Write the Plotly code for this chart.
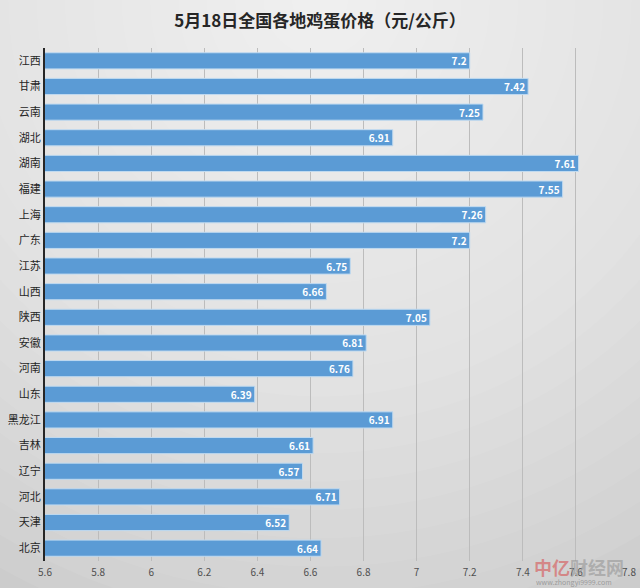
import plotly.graph_objects as go

provinces = ["江西", "甘肃", "云南", "湖北", "湖南", "福建", "上海", "广东", "江苏", "山西",
             "陕西", "安徽", "河南", "山东", "黑龙江", "吉林", "辽宁", "河北", "天津", "北京"]
prices = [7.2, 7.42, 7.25, 6.91, 7.61, 7.55, 7.26, 7.2, 6.75, 6.66,
          7.05, 6.81, 6.76, 6.39, 6.91, 6.61, 6.57, 6.71, 6.52, 6.64]
tick_vals = [5.6, 5.8, 6.0, 6.2, 6.4, 6.6, 6.8, 7.0, 7.2, 7.4, 7.6, 7.8]
tick_text = ["5.6", "5.8", "6", "6.2", "6.4", "6.6", "6.8", "7", "7.2", "7.4", "7.6", "7.8"]

font_family = "Noto Sans CJK SC, Noto Sans, sans-serif"
W, H = 640, 588
ML, MR, MT, MB = 45, 11, 48, 27
PW, PH = W - ML - MR, H - MT - MB

fig = go.Figure(go.Bar(
    x=prices,
    y=provinces,
    orientation="h",
    marker=dict(color="#5b9bd5", line=dict(color="#c0daf0", width=1)),
    text=[str(p) for p in prices],
    texttemplate="<b>%{text}</b>",
    textposition="inside",
    insidetextanchor="end",
    textangle=0,
    constraintext="none",
    textfont=dict(color="white", size=10, family=font_family),
    cliponaxis=True,
))

# radial gradient background: light at the top centre, gray toward the corners
shapes = []
n_layers = 24
cx_px, cy_px = W / 2, 0
for k in range(n_layers, 0, -1):
    r = 680 * k / n_layers
    x0 = (cx_px - r - ML) / PW
    x1 = (cx_px + r - ML) / PW
    y0 = (H - MB - (cy_px + r)) / PH
    y1 = (H - MB - (cy_px - r)) / PH
    shapes.append(dict(type="circle", xref="paper", yref="paper",
                       x0=x0, x1=x1, y0=y0, y1=y1,
                       fillcolor="rgba(255,255,255,0.062)", line=dict(width=0), layer="below"))

fig.update_layout(
    width=W, height=H,
    margin=dict(l=ML, r=MR, t=MT, b=MB),
    paper_bgcolor="#c9c9c9",
    plot_bgcolor="rgba(0,0,0,0)",
    shapes=shapes,
    bargap=0.37,
    font=dict(family=font_family, color="#404040"),
    title=dict(text="<b>5月18日全国各地鸡蛋价格（元/公斤）</b>", x=0.5, xanchor="center",
               y=0.965, yanchor="middle", font=dict(size=17, color="#262626", family=font_family)),
    xaxis=dict(range=[5.6, 7.8], tickvals=tick_vals, ticktext=tick_text,
               showgrid=True, gridcolor="#bcbcbc", gridwidth=1, zeroline=False,
               tickfont=dict(size=10, color="#505050"), ticks="", showline=False,
               ticklabelstandoff=4, automargin=False),
    yaxis=dict(autorange="reversed", tickfont=dict(size=11, color="#262626"),
               showline=True, linecolor="#262626", linewidth=2, ticks="", ticklen=0,
               showgrid=False, automargin=False),
    showlegend=False,
)

fig.add_annotation(text="<b><span style='color:rgba(215,70,70,0.55)'>中亿</span>"
                        "<span style='color:rgba(150,150,150,0.6)'>财经网</span></b>",
                   xref="paper", yref="paper", x=0.995, y=-0.012,
                   xanchor="right", yanchor="middle", showarrow=False,
                   font=dict(size=18, family=font_family))
fig.add_annotation(text="www.zhongyi9999.com", xref="paper", yref="paper", x=0.975, y=-0.04,
                   xanchor="right", yanchor="middle", showarrow=False,
                   font=dict(size=7, color="rgba(130,130,130,0.7)"))

fig.write_html("out.html", config={"displayModeBar": False},
               post_script="document.body.style.margin='0';document.body.style.overflow='hidden';")
